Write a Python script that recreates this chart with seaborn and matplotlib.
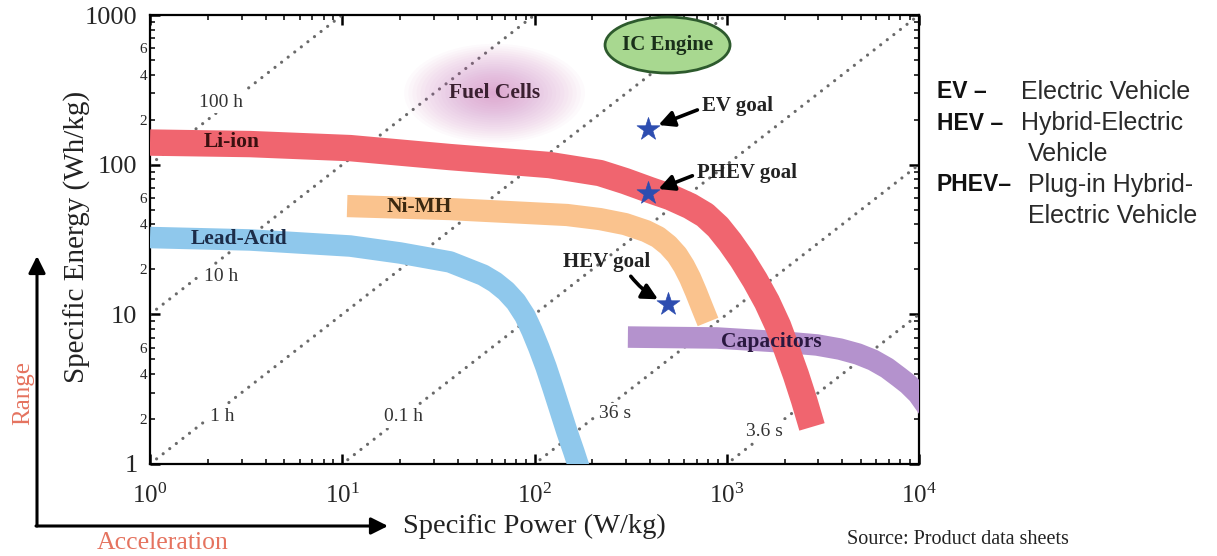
import numpy as np
import matplotlib
matplotlib.use("Agg")
import matplotlib.pyplot as plt
import seaborn as sns
from matplotlib.patches import Ellipse, FancyArrowPatch
from matplotlib.ticker import FixedLocator, LogLocator, FuncFormatter, NullFormatter

# ---------------- data ----------------
lead_power = [1, 3.31, 11.0, 20.0, 36.3, 54.0, 62.3, 71.1, 80.1, 89.3, 97.1, 105.5, 114.8,
              124.8, 135.7, 147.6, 160.5, 174.6]
lead_energy = [32.6, 31.4, 28.6, 25.7, 22.4, 18.3, 16.4, 14.3, 12.1, 9.74, 7.73, 5.96, 4.45,
               3.22, 2.30, 1.64, 1.20, 0.86]

nimh_power = [10.6, 36.3, 74.6, 147.6, 219, 296, 380, 439, 495, 551, 599, 644, 692, 743, 799]
nimh_energy = [52.9, 50.5, 48.2, 46.1, 43.3, 40.1, 36.0, 32.8, 29.0, 24.9, 21.0, 17.5, 14.1,
               11.2, 8.89]

li_power = [1, 3.31, 11.0, 36.3, 66.2, 120, 219, 296, 399, 507, 644, 771, 901, 1040, 1200,
            1403, 1619, 1849, 2057, 2291, 2523, 2776]
li_energy = [140.5, 137.3, 129, 112.4, 105.7, 99.4, 87.9, 77.7, 67.6, 60.8, 52.9, 46.1, 38.3,
             30.4, 23.4, 16.9, 12.1, 8.36, 5.78, 3.93, 2.68, 1.77]

cap_power = [306, 890, 1963, 2947, 3881, 4814, 5764, 6816, 7876, 8772, 9886, 11140, 12850]
cap_energy = [7.05, 6.95, 6.53, 6.24, 5.86, 5.43, 4.95, 4.38, 3.81, 3.42, 2.94, 2.37, 1.74]

goal_names = ["EV goal", "PHEV goal", "HEV goal"]
goal_power = [390, 390, 495]
goal_energy = [173, 64.6, 11.7]

time_hours = [100, 10, 1, 0.1, 0.01, 0.001]
time_labels = ["100 h", "10 h", "1 h", "0.1 h", "36 s", "3.6 s"]
time_label_power = [2.35, 2.35, 2.38, 20.9, 262, 1570]
time_label_energy = [262, 18.0, 2.09, 2.09, 2.16, 1.66]

band_names = ["Lead-Acid", "Ni-MH", "Li-ion", "Capacitors"]
band_label_power = [2.9, 25.1, 2.67, 1699]
band_label_energy = [31.8, 52.1, 141.6, 6.53]

fuel_cell_center = (62, 300)
ic_engine_center = (492, 630)

y_major = [1, 10, 100, 1000]
y_major_labels = ["1", "10", "100", "1000"]
x_major = [1, 10, 100, 1000, 10000]

abbrev_rows = ["EV –", "HEV –", "", "PHEV–", ""]
desc_rows = ["Electric Vehicle", "Hybrid-Electric", "Vehicle", "Plug-in Hybrid-", "Electric Vehicle"]

# ---------------- style ----------------
sns.set_style("ticks")
plt.rcParams["font.family"] = ["Liberation Serif", "DejaVu Serif"]
plt.rcParams["mathtext.fontset"] = "custom"
plt.rcParams["mathtext.rm"] = "Liberation Serif"
plt.rcParams["mathtext.it"] = "Liberation Serif:italic"
plt.rcParams["mathtext.bf"] = "Liberation Serif:bold"

W, H = 1217, 556
fig = plt.figure(figsize=(W / 100, H / 100), dpi=100)
fig.patch.set_facecolor("white")
ax = fig.add_axes([150 / W, 1 - 464 / H, 769 / W, 449 / H])
ax.set_xscale("log")
ax.set_yscale("log")
ax.set_xlim(1, 1e4)
ax.set_ylim(1, 1000)

# constant discharge-time lines (E = P * t)
for t in time_hours:
    sns.lineplot(x=[1, 1e4], y=[t * 1, t * 1e4], ax=ax, color="#6a6a6a", lw=2.3,
                 linestyle=(0, (0.01, 2.6)), dash_capstyle="round", zorder=1,
                 estimator=None, sort=False)

for lbl, px, py in zip(time_labels, time_label_power, time_label_energy):
    ax.text(px, py, lbl, fontsize=14, color="#333333", ha="center", va="center", zorder=2,
            bbox=dict(boxstyle="square,pad=0.15", fc="white", ec="none"))

fig.canvas.draw()
def to_axes(pt):
    return ax.transAxes.inverted().transform(ax.transData.transform(pt))

# fuel cells soft blob
fc = to_axes(fuel_cell_center)
n = 22
for i in range(n):
    f = 1 - i / n
    ax.add_patch(Ellipse(fc, 0.235 * f, 0.22 * f, transform=ax.transAxes,
                         fc="#c865b5", ec="none", alpha=0.032, zorder=2))

# bands
band_kw = dict(ax=ax, estimator=None, sort=False, solid_capstyle="butt",
               solid_joinstyle="round", legend=False)
sns.lineplot(x=lead_power, y=lead_energy, color="#8fc8ec", lw=15.5, zorder=3, **band_kw)
sns.lineplot(x=nimh_power, y=nimh_energy, color="#fac38e", lw=16, zorder=3, **band_kw)
sns.lineplot(x=cap_power, y=cap_energy, color="#b492cd", lw=15.5, zorder=3.2, **band_kw)
sns.lineplot(x=li_power, y=li_energy, color="#f0656f", lw=19, zorder=3.4, **band_kw)

label_colors = ["#1c2c48", "#3a2810", "#3a1010", "#2a1840"]
for name, px, py, c in zip(band_names, band_label_power, band_label_energy, label_colors):
    ax.text(px, py, name, fontsize=15.5, fontweight="bold", color=c, ha="center",
            va="center", zorder=6)

ax.text(*fuel_cell_center, "Fuel Cells", fontsize=15.5, fontweight="bold", color="#3a2030",
        ha="center", va="center", zorder=6)

# IC engine ellipse
ic = to_axes(ic_engine_center)
ax.add_patch(Ellipse(ic, 125 / 769, 56 / 449, transform=ax.transAxes, fc="#a8d890",
                     ec="#2d5a2d", lw=2, zorder=5))
ax.text(*ic_engine_center, "IC Engine", fontsize=15, fontweight="bold", color="#1a301a",
        ha="center", va="center", zorder=6)

# goals
sns.scatterplot(x=goal_power, y=goal_energy, ax=ax, marker="*", s=300, color="#2d4db0",
                edgecolor="#2d4db0", linewidth=0.5, zorder=7, legend=False)

arrow_kw = dict(arrowstyle="-|>,head_length=0.55,head_width=0.28", mutation_scale=17,
                lw=2.6, color="black", shrinkA=1, shrinkB=8)
ax.annotate(goal_names[0], xy=(goal_power[0], goal_energy[0]), xytext=(743, 246),
            fontsize=15, fontweight="bold", color="#222222", ha="left", va="center", zorder=8,
            arrowprops=dict(relpos=(0, 0.4), **arrow_kw))
ax.annotate(goal_names[1], xy=(goal_power[1], goal_energy[1]), xytext=(700, 88),
            fontsize=15, fontweight="bold", color="#222222", ha="left", va="center", zorder=8,
            arrowprops=dict(relpos=(0, 0.45), **arrow_kw))
ax.annotate(goal_names[2], xy=(goal_power[2], goal_energy[2]), xytext=(238, 22.4),
            fontsize=15, fontweight="bold", color="#222222", ha="center", va="center", zorder=8,
            arrowprops=dict(relpos=(0.72, 0.1), connectionstyle="arc3,rad=0.15", **arrow_kw))

# axes styling
for s in ax.spines.values():
    s.set_linewidth(1.6)
    s.set_color("black")
ax.yaxis.set_major_locator(FixedLocator(y_major))
ax.yaxis.set_major_formatter(FuncFormatter(lambda v, p: y_major_labels[y_major.index(v)] if v in y_major else ""))
ax.yaxis.set_minor_locator(LogLocator(base=10, subs=range(2, 10), numticks=20))

def minor_fmt(v, pos):
    m = int(round(v / 10 ** np.floor(np.log10(v) + 1e-9)))
    return str(m) if m in (2, 4, 6) else ""
ax.yaxis.set_minor_formatter(FuncFormatter(minor_fmt))

ax.xaxis.set_major_locator(FixedLocator(x_major))
ax.xaxis.set_major_formatter(FuncFormatter(lambda v, p: r"$10^{%d}$" % int(round(np.log10(v)))))
ax.xaxis.set_minor_locator(LogLocator(base=10, subs=range(2, 10), numticks=20))
ax.xaxis.set_minor_formatter(NullFormatter())

ax.tick_params(which="both", direction="in", top=True, right=True, color="black")
ax.tick_params(which="major", length=7, width=1.8)
ax.tick_params(which="minor", length=3.5, width=1.1)
ax.tick_params(axis="y", which="major", labelsize=19, pad=9)
ax.tick_params(axis="y", which="minor", labelsize=11, pad=2)
ax.tick_params(axis="x", which="major", labelsize=18, pad=14)

ax.set_xlabel("Specific Power (W/kg)", fontsize=20.5, color="#222222")
ax.xaxis.set_label_coords(0.5, -(526 - 464) / 449)
ax.xaxis.label.set_va("center")
ax.set_ylabel("Specific Energy (Wh/kg)", fontsize=21, color="#222222")
ax.yaxis.set_label_coords(-(150 - 77) / 769, (464 - 237) / 449)
ax.yaxis.label.set_va("center")

# Range / Acceleration arrows
corner = (37 / W, 1 - 526 / H)
fig.add_artist(FancyArrowPatch(corner, (37 / W, 1 - 256 / H), transform=fig.transFigure,
                               arrowstyle="-|>,head_length=0.6,head_width=0.3", mutation_scale=17,
                               lw=2.2, color="black", shrinkA=0, shrinkB=0))
fig.add_artist(FancyArrowPatch((36 / W, 1 - 526 / H), (388 / W, 1 - 526 / H), transform=fig.transFigure,
                               arrowstyle="-|>,head_length=0.6,head_width=0.3", mutation_scale=17,
                               lw=2.2, color="black", shrinkA=0, shrinkB=0))
fig.text(23 / W, 1 - 393 / H, "Range", rotation=90, fontsize=18, color="#e5735f",
         ha="center", va="center")
fig.text(163 / W, 1 - 543 / H, "Acceleration", fontsize=18.5, color="#e5735f",
         ha="center", va="center")
fig.text(958 / W, 1 - 540 / H, "Source: Product data sheets", fontsize=14.5, color="#222222",
         ha="center", va="center")

# abbreviation key
for i, (a, d) in enumerate(zip(abbrev_rows, desc_rows)):
    yy = 1 - (92 + i * 31) / H
    if a:
        fig.text(937 / W, yy, a, fontsize=16.5, fontweight="bold", family="Liberation Sans",
                 color="#111111", ha="left", va="center")
    x0 = 1021 if i < 2 else 1028
    fig.text(x0 / W, yy, d, fontsize=18, family="Liberation Sans", color="#2a2a2a",
             ha="left", va="center")

fig.savefig("out.png", dpi=100)
